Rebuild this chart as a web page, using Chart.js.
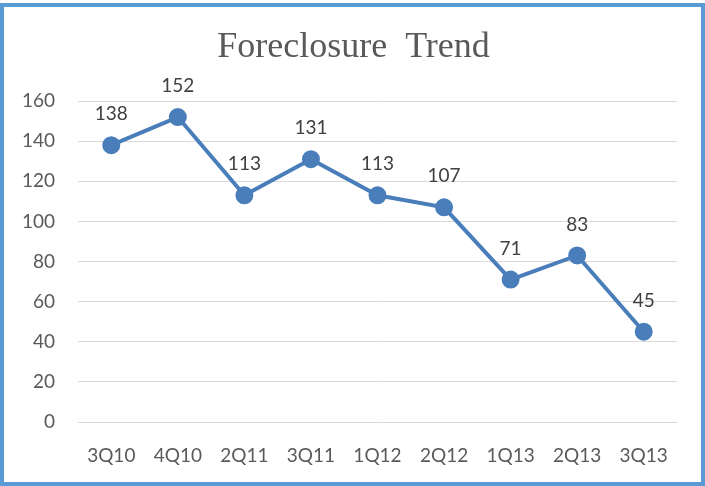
<!DOCTYPE html>
<html>
<head>
<meta charset="utf-8">
<script src="https://cdn.jsdelivr.net/npm/chart.js@4/dist/chart.umd.min.js"></script>
<style>
  body { margin: 0; background: #fff; }
  #wrap { position: relative; width: 705px; height: 486px; }
  #frame {
    position: absolute; left: 0; top: 3px; width: 705px; height: 483px;
    box-sizing: border-box; border: 4px solid #5b9bd5; pointer-events: none;
  }
</style>
</head>
<body>
<div id="wrap">
  <canvas id="chart" width="705" height="486"></canvas>
  <div id="frame"></div>
</div>
<script>
// Chart data
const quarters = ['3Q10', '4Q10', '2Q11', '3Q11', '1Q12', '2Q12', '1Q13', '2Q13', '3Q13']
const foreclosures = [138, 152, 113, 131, 113, 107, 71, 83, 45]
const yTicks = [0, 20, 40, 60, 80, 100, 120, 140, 160]
const chartTitle = 'Foreclosure  Trend'

const ctx = document.querySelector('#chart').getContext('2d')

// Title centred on the whole page, value labels above each point
const annotations = {
  id: 'annotations',
  afterDatasetsDraw (chart) {
    const c = chart.ctx
    const meta = chart.getDatasetMeta(0)
    c.save()
    c.textAlign = 'center'
    c.textBaseline = 'middle'
    c.font = '36px "Liberation Serif"'
    c.fillStyle = '#595959'
    c.fillText(chartTitle, chart.width / 2 + 1, 48)
    c.font = '19px Lato'
    c.fillStyle = '#404040'
    meta.data.forEach((pt, i) => {
      c.fillText(String(foreclosures[i]), pt.x, pt.y - 31)
    })
    c.restore()
  }
}

const myChart = new Chart(ctx, {
  type: 'line',
  data: {
    labels: quarters,
    datasets: [
      {
        label: 'Foreclosures',
        data: foreclosures,
        borderColor: '#4a7ebb',
        backgroundColor: '#4a7ebb',
        borderWidth: 4,
        pointRadius: 7,
        pointHoverRadius: 7,
        tension: 0
      }
    ]
  },
  options: {
    responsive: false,
    animation: false,
    layout: { padding: { top: 101, left: 10, right: 28, bottom: 14 } },
    scales: {
      x: {
        offset: true,
        afterFit: axis => { axis.height = 50 },
        grid: { display: false },
        border: { display: false },
        ticks: { color: '#595959', font: { family: 'Lato', size: 19 }, padding: 14, maxRotation: 0 }
      },
      y: {
        min: 0,
        max: 160,
        afterBuildTicks: axis => { axis.ticks = yTicks.map(v => ({ value: v })) },
        afterFit: axis => { axis.width = 68 },
        grid: { color: '#d9d9d9', lineWidth: 1, drawTicks: false },
        border: { display: false },
        ticks: { color: '#595959', font: { family: 'Lato', size: 19 }, padding: 23 }
      }
    },
    plugins: {
      legend: { display: false },
      tooltip: { enabled: false },
      title: { display: false }
    }
  },
  plugins: [annotations]
})
</script>
</body>
</html>
